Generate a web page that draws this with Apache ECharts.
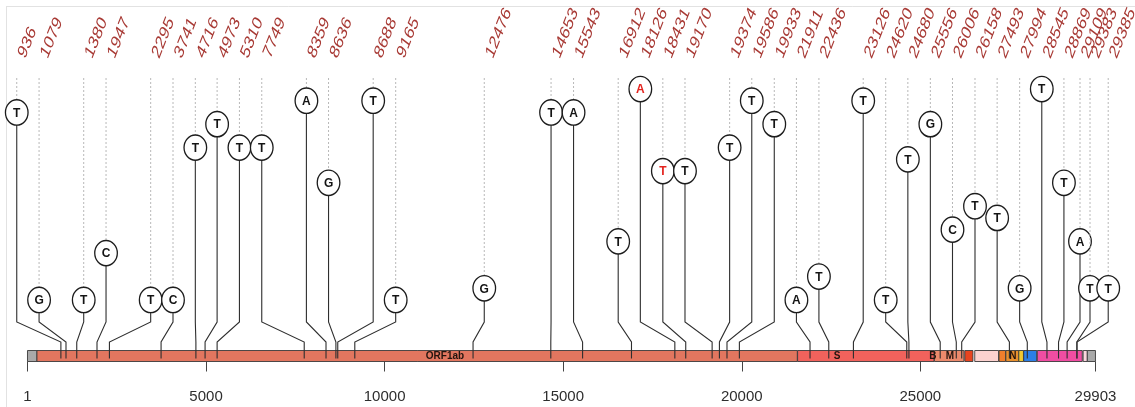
<!DOCTYPE html>
<html>
<head>
<meta charset="utf-8">
<script src="https://cdn.jsdelivr.net/npm/echarts@6/dist/echarts.min.js"></script>
<style>
  html, body { margin: 0; padding: 0; background: #ffffff; }
  #chart { width: 1135px; height: 407px; }
</style>
</head>
<body>
<div id="chart"></div>
<script>
// ---- SNVs along the SARS-CoV-2 genome ----
const positions = [936, 1079, 1380, 1947, 2295, 3741, 4716, 4973, 5310, 7749,
  8359, 8636, 8688, 9165, 12476, 14653, 15543, 16912, 18126, 18431,
  19170, 19374, 19586, 19933, 21911, 22436, 23126, 24620, 24680, 25556,
  26006, 26158, 27493, 27994, 28545, 28869, 29109, 29383, 29385];
const bases = ['T', 'G', 'T', 'C', 'T', 'C', 'T', 'T', 'T', 'T',
  'A', 'G', 'T', 'T', 'G', 'T', 'A', 'T', 'A', 'T',
  'T', 'T', 'T', 'T', 'A', 'T', 'T', 'T', 'T', 'G',
  'C', 'T', 'T', 'G', 'T', 'T', 'A', 'T', 'T'];
const scores = [17, 1, 1, 5, 1, 1, 14, 16, 14, 14,
  18, 11, 18, 1, 2, 17, 17, 6, 19, 12,
  12, 14, 18, 16, 1, 3, 18, 1, 13, 16,
  7, 9, 8, 2, 19, 11, 6, 2, 2];
// genome coordinate where each head sits once crowded heads are spread apart
const headPos = [-300, 325, 1575, 2200, 3450, 4075, 4700, 5310, 5935, 6560,
  7810, 8430, 9680, 10310, 12790, 14660, 15290, 16540, 17160, 17790,
  18410, 19660, 20280, 20910, 21530, 22160, 23400, 24030, 24650, 25280,
  25900, 26530, 27150, 27780, 28400, 29020, 29470, 29750, 30260];
const highlighted = [18126, 18431];

// ---- genome features ----
const featureNames = ["5'UTR", 'ORF1ab', 'S', 'ORF3a', 'E', 'M', 'ORF6', 'ORF7a', 'ORF7b', 'ORF8', 'N', 'ORF10', "3'UTR"];
const featureStart = [1, 266, 21563, 25393, 26245, 26523, 27202, 27394, 27756, 27894, 28274, 29558, 29675];
const featureEnd = [265, 21555, 25384, 26220, 26472, 27191, 27387, 27759, 27887, 28259, 29533, 29674, 29903];
const featureTags = ['ORF1ab', 'S', 'B', 'M', 'N'];
const featureTagAt = [11690, 22670, 25352, 25828, 27593];

// ---- genome axis ----
const tickValues = [1, 5000, 10000, 15000, 20000, 25000, 29903];

const featureColors = ['#a9a9a9', '#e2765f', '#f1625c', '#ec8a6c', '#e8441f', '#fcd2cf',
  '#ef7f2c', '#e8902e', '#f2c830', '#2d7fe6', '#f04da2', '#fbd6de', '#a9a9a9'];

const X_MIN = -700, X_MAX = 30950;
const GRID_LEFT = 2.46, GRID_RIGHT = 2.14;
const BAR_TOP = 350.5, BAR_BOTTOM = 361.5;
const ELBOW_HI = 322, ELBOW_LO = 342;
const DASH_TOP = 78;
const LABEL_X_SHIFT = 5, LABEL_Y = 57;
const HEAD_R = 11.3, HEAD_SY = 1.12;

const chart = echarts.init(document.getElementById('chart'));

function renderFeature(params, api) {
  const i = api.value(2);
  const p0 = api.coord([api.value(0), 1]);
  const p1 = api.coord([api.value(1), 0]);
  return {
    type: 'rect',
    shape: { x: p0[0], y: p0[1], width: p1[0] - p0[0], height: p1[1] - p0[1] },
    style: { fill: featureColors[i], stroke: '#3a3a3a', lineWidth: 0.9 }
  };
}

function renderTag(params, api) {
  const p = api.coord([api.value(0), 0.5]);
  return {
    type: 'text',
    x: p[0], y: p[1],
    style: {
      text: featureTags[api.value(1)],
      align: 'center', verticalAlign: 'middle',
      font: 'bold 10px "Liberation Sans", Arial, sans-serif',
      fill: '#24140e'
    }
  };
}

function renderLollipop(params, api) {
  const i = api.value(3);
  const head = api.coord([api.value(0), api.value(1)]);
  const foot = api.coord([api.value(2), 0]);
  const hx = head[0], hy = head[1], fx = foot[0];
  const isRed = highlighted.indexOf(positions[i]) >= 0;
  const rY = HEAD_R * HEAD_SY;
  return {
    type: 'group',
    children: [
      {
        type: 'line',
        shape: { x1: hx, y1: DASH_TOP, x2: hx, y2: hy - rY },
        style: { stroke: '#b8b8b8', lineWidth: 1, lineDash: [2, 2] }
      },
      {
        type: 'polyline',
        shape: { points: [[hx, hy + rY], [hx, ELBOW_HI], [fx, ELBOW_LO], [fx, BAR_BOTTOM - 3]] },
        style: { stroke: '#2e2e2e', lineWidth: 1.1, fill: null }
      },
      {
        type: 'group',
        x: hx, y: hy, scaleY: HEAD_SY,
        children: [
          { type: 'circle', shape: { cx: 0, cy: 0, r: HEAD_R },
            style: { fill: '#ffffff', stroke: '#1c1c1c', lineWidth: 1.3 } },
          { type: 'text',
            style: { text: bases[i], x: 0, y: 0.5, align: 'center', verticalAlign: 'middle',
              font: 'bold 12px "Liberation Sans", Arial, sans-serif',
              fill: isRed ? '#e4241f' : '#141414' } }
        ]
      },
      {
        type: 'group',
        x: hx + LABEL_X_SHIFT, y: LABEL_Y, scaleY: 1.4,
        children: [
          { type: 'text', rotation: 61 * Math.PI / 180,
            style: { text: String(positions[i]), x: 0, y: 0, align: 'left', verticalAlign: 'middle',
              font: '14px "Liberation Sans", Arial, sans-serif', fill: '#a83a35' } }
        ]
      }
    ]
  };
}

const featureData = featureStart.map((s, i) => [s, featureEnd[i], i]);
const tagData = featureTagAt.map((p, i) => [p, i]);
const lollipopData = positions.map((p, i) => [headPos[i], scores[i], p, i]);

chart.setOption({
  animation: false,
  backgroundColor: '#ffffff',
  graphic: [
    { type: 'line', shape: { x1: 6, y1: 6.5, x2: 1135, y2: 6.5 }, style: { stroke: '#e2e2e2', lineWidth: 1 }, silent: true },
    { type: 'line', shape: { x1: 6.5, y1: 6, x2: 6.5, y2: 407 }, style: { stroke: '#e2e2e2', lineWidth: 1 }, silent: true }
  ],
  grid: [
    { left: GRID_LEFT, right: GRID_RIGHT, top: 18.7, bottom: 95.3 },
    { left: GRID_LEFT, right: GRID_RIGHT, top: BAR_TOP, height: BAR_BOTTOM - BAR_TOP }
  ],
  xAxis: [
    { gridIndex: 0, type: 'value', min: X_MIN, max: X_MAX, show: false },
    {
      gridIndex: 1, type: 'value', min: X_MIN, max: X_MAX, position: 'bottom',
      axisLine: { show: false },
      splitLine: { show: false },
      axisTick: { show: true, length: 10, customValues: tickValues, lineStyle: { color: '#444', width: 1 } },
      axisLabel: {
        customValues: tickValues, margin: 28,
        formatter: v => String(v),
        fontFamily: '"Liberation Sans", Arial, sans-serif',
        fontSize: 15, color: '#2e2e2e'
      }
    }
  ],
  yAxis: [
    { gridIndex: 0, type: 'value', min: 0, max: 25, show: false },
    { gridIndex: 1, type: 'value', min: 0, max: 1, show: false }
  ],
  series: [
    { type: 'custom', xAxisIndex: 1, yAxisIndex: 1, data: featureData, renderItem: renderFeature, z: 1, silent: true },
    { type: 'custom', xAxisIndex: 0, yAxisIndex: 0, data: lollipopData, renderItem: renderLollipop, clip: false, z: 5, silent: true },
    { type: 'custom', xAxisIndex: 1, yAxisIndex: 1, data: tagData, renderItem: renderTag, z: 6, silent: true }
  ]
});
</script>
</body>
</html>
